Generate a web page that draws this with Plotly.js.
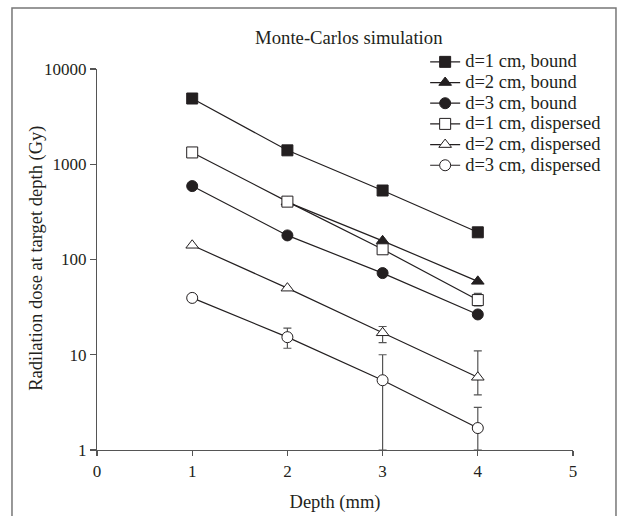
<!DOCTYPE html>
<html>
<head>
<meta charset="utf-8">
<script src="https://cdn.plot.ly/plotly-3.0.1.min.js"></script>
<style>html,body{margin:0;padding:0;background:#fff;}#chart{width:617px;height:516px;}</style>
</head>
<body>
<div id="chart"></div>
<script>
var depth = [1, 2, 3, 4];
var seriesNames = ["d=1 cm, bound", "d=2 cm, bound", "d=3 cm, bound",
                   "d=1 cm, dispersed", "d=2 cm, dispersed", "d=3 cm, dispersed"];
var d1Bound = [4900, 1400, 530, 193];
var d2Bound = [null, 400, 157, 59];
var d3Bound = [590, 179, 72, 26.5];
var d1Dispersed = [1330, 405, 128, 37.5];
var d2Dispersed = [141, 50, 17, 5.8];
var d3Dispersed = [39.5, 15.3, 5.4, 1.7];
var d1DispersedErrPlus = [0, 0, 0, 6.5];
var d1DispersedErrMinus = [0, 0, 0, 5];
var d2DispersedErrPlus = [0, 0, 2.8, 5.2];
var d2DispersedErrMinus = [0, 0, 3.6, 2];
var d3DispersedErrPlus = [0, 3.7, 4.6, 1.1];
var d3DispersedErrMinus = [0, 3.6, 4.4, 0.7];
var yTickVals = [1, 10, 100, 1000, 10000];
var yTickText = ["1", "10", "100", "1000", "10000"];
var xTickVals = [0, 1, 2, 3, 4, 5];

var ink = "#231f20";
var fontFam = "'Liberation Serif', 'DejaVu Serif', serif";

function trace(name, y, symbol, filled, ep, em) {
  var t = {
    x: depth, y: y, name: '<span style="font-size:18.5px">' + name + '</span>',
    type: "scatter", mode: "lines+markers",
    cliponaxis: false,
    line: {color: ink, width: 1.2},
    marker: {symbol: symbol, size: 11, color: filled ? ink : "#ffffff",
             line: {color: ink, width: 1}}
  };
  if (ep) {
    t.error_y = {type: "data", symmetric: false, array: ep, arrayminus: em,
                 color: "#555555", thickness: 1.2, width: 4};
  }
  return t;
}

var data = [
  trace(seriesNames[0], d1Bound, "square", true),
  trace(seriesNames[1], d2Bound, "triangle-up", true),
  trace(seriesNames[2], d3Bound, "circle", true),
  trace(seriesNames[3], d1Dispersed, "square", false, d1DispersedErrPlus, d1DispersedErrMinus),
  trace(seriesNames[4], d2Dispersed, "triangle-up", false, d2DispersedErrPlus, d2DispersedErrMinus),
  trace(seriesNames[5], d3Dispersed, "circle", false, d3DispersedErrPlus, d3DispersedErrMinus)
];

var layout = {
  width: 617, height: 516,
  margin: {l: 97, r: 44, t: 69, b: 66, autoexpand: false},
  paper_bgcolor: "#ffffff", plot_bgcolor: "#ffffff",
  font: {family: fontFam, size: 17, color: ink},
  showlegend: true,
  title: {text: "Monte-Carlos simulation", font: {family: fontFam, size: 18.7, color: ink},
          xref: "paper", x: 0.529, xanchor: "center", yref: "container", y: 0.928, yanchor: "middle"},
  legend: {x: 0.6894, xanchor: "left", y: 1.059, yanchor: "top",
           font: {family: fontFam, size: 13.6, color: ink},
           bgcolor: "rgba(0,0,0,0)", tracegroupgap: 0, itemwidth: 30},
  xaxis: {range: [0, 5], tickvals: xTickVals, showgrid: false, zeroline: false,
          showline: true, linecolor: "#555555", linewidth: 1.2,
          ticks: "outside", ticklen: 5, tickcolor: "#555555", tickwidth: 1.2,
          tickfont: {family: fontFam, size: 17, color: ink},
          title: {text: "Depth (mm)", font: {family: fontFam, size: 18.5, color: ink}, standoff: 15}},
  yaxis: {type: "log", range: [0, 4], tickvals: yTickVals, ticktext: yTickText,
          showgrid: false, zeroline: false,
          showline: true, linecolor: "#555555", linewidth: 1.2,
          ticks: "outside", ticklen: 6, tickcolor: "#555555", tickwidth: 1.2,
          tickfont: {family: fontFam, size: 17, color: ink}},
  annotations: [{text: "Radilation dose at target depth (Gy)", textangle: -90,
                 xref: "paper", yref: "paper", x: -0.126, y: 0.502,
                 xanchor: "center", yanchor: "middle", showarrow: false,
                 font: {family: fontFam, size: 18.5, color: ink}}],
  shapes: [{type: "rect", xref: "paper", yref: "paper",
            x0: -0.1786, x1: 1.0903, y0: -0.19, y1: 1.160,
            line: {color: "#777777", width: 1.5}, fillcolor: "rgba(0,0,0,0)", layer: "below"}]
};

Plotly.newPlot("chart", data, layout, {displayModeBar: false, staticPlot: true});
</script>
</body>
</html>
